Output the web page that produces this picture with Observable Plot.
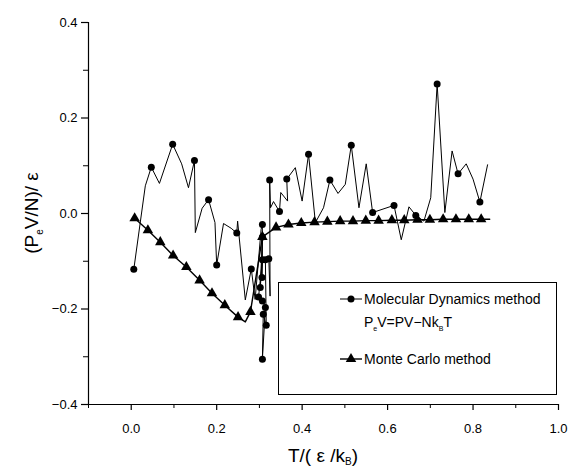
<!DOCTYPE html>
<html>
<head>
<meta charset="utf-8">
<script src="https://cdn.jsdelivr.net/npm/d3@7"></script>
<script src="https://cdn.jsdelivr.net/npm/@observablehq/plot@0.6"></script>
<style>
  html, body { margin: 0; padding: 0; background: #fff; }
  svg { display: block; }
</style>
</head>
<body>
<div id="chart"></div>
<script>
// Molecular Dynamics series (T, PeV/N), marker flag = 1 where a filled circle is drawn
const mdT = [0.006, 0.033, 0.047, 0.066, 0.097, 0.118, 0.134, 0.148, 0.150, 0.166, 0.181, 0.196, 0.200, 0.216, 0.234, 0.247, 0.249, 0.267, 0.281, 0.290, 0.304, 0.307, 0.306, 0.307, 0.302, 0.307, 0.298, 0.307, 0.314, 0.307, 0.309, 0.316, 0.314, 0.322, 0.325, 0.324, 0.326, 0.333, 0.347, 0.350, 0.366, 0.364, 0.384, 0.400, 0.415, 0.431, 0.450, 0.465, 0.484, 0.501, 0.515, 0.533, 0.550, 0.565, 0.615, 0.632, 0.650, 0.666, 0.685, 0.701, 0.716, 0.734, 0.751, 0.765, 0.784, 0.800, 0.816, 0.834];
const mdV = [-0.117, 0.058, 0.097, 0.063, 0.145, 0.104, 0.054, 0.111, -0.040, 0.011, 0.029, -0.019, -0.108, -0.021, -0.031, -0.041, -0.016, -0.181, -0.116, -0.180, -0.033, -0.023, -0.134, -0.049, -0.155, -0.097, -0.175, -0.183, -0.197, -0.305, -0.211, -0.234, -0.097, -0.095, -0.173, 0.070, 0.012, 0.025, 0.004, 0.044, 0.026, 0.072, 0.096, 0.026, 0.124, -0.019, 0.012, 0.070, 0.042, 0.061, 0.143, 0.012, 0.104, 0.002, 0.017, -0.055, 0.014, -0.004, -0.016, 0.033, 0.271, 0.002, 0.131, 0.083, 0.104, 0.072, 0.024, 0.102];
const mdMark = [1,0,1,0,1,0,0,1,0,0,1,0,1,0,0,1,0,0,1,0,0,1,1,1,1,1,1,1,1,1,1,1,1,1,0,1,0,0,1,0,0,1,0,0,1,0,0,1,0,0,1,0,0,1,1,0,0,1,0,0,1,0,0,1,0,0,1,0];

// Monte Carlo series
const mcT = [0.008, 0.039, 0.068, 0.098, 0.129, 0.160, 0.189, 0.219, 0.250, 0.267, 0.279, 0.307, 0.339, 0.368, 0.398, 0.429, 0.459, 0.489, 0.519, 0.549, 0.579, 0.610, 0.639, 0.670, 0.699, 0.730, 0.760, 0.790, 0.819, 0.839];
const mcV = [-0.010, -0.035, -0.060, -0.088, -0.112, -0.140, -0.167, -0.192, -0.217, -0.227, -0.206, -0.049, -0.029, -0.023, -0.020, -0.018, -0.017, -0.016, -0.016, -0.015, -0.015, -0.014, -0.014, -0.013, -0.013, -0.012, -0.012, -0.012, -0.012, -0.012];
const mcMark = [1,1,1,1,1,1,1,1,1,0,1,1,1,1,1,1,1,1,1,1,1,1,1,1,1,1,1,1,1,0];

// Axis ticks
const xTicks = [0.0, 0.2, 0.4, 0.6, 0.8, 1.0];
const xMinor = [-0.1, 0.1, 0.3, 0.5, 0.7, 0.9];
const yTicks = [-0.4, -0.2, 0.0, 0.2, 0.4];
const yMinor = [-0.3, -0.1, 0.1, 0.3];

// Legend / labels
const legendMD = "Molecular Dynamics method";
const legendMC = "Monte Carlo method";

const md = mdT.map((t, i) => ({T: t, V: mdV[i], m: mdMark[i]}));
const mc = mcT.map((t, i) => ({T: t, V: mcV[i], m: mcMark[i]}));

const fmt = d => d.toFixed(1).replace("-", "\u2212");
const tickFont = '"Liberation Sans", Arial, sans-serif';

const plot = Plot.plot({
  width: 569,
  height: 468,
  marginLeft: 88,
  marginRight: 11,
  marginTop: 22,
  marginBottom: 64,
  x: {domain: [-0.1, 1.0]},
  y: {domain: [-0.4, 0.4]},
  style: {fontFamily: tickFont, fontSize: "13px", background: "#fff", color: "#000"},
  marks: [
    Plot.ruleY([-0.4], {stroke: "#000", strokeWidth: 1.2}),
    Plot.ruleX([-0.1], {stroke: "#000", strokeWidth: 1.2}),
    Plot.axisX({ticks: xTicks, tickSize: 6, tickPadding: 13, tickFormat: fmt, label: null, stroke: "#000", strokeWidth: 1.2}),
    Plot.axisX({ticks: xMinor, tickSize: 4, tickFormat: () => "", label: null, stroke: "#000"}),
    Plot.axisY({ticks: yTicks, tickSize: 7, tickPadding: 4, tickFormat: fmt, label: null, stroke: "#000", strokeWidth: 1.2}),
    Plot.axisY({ticks: yMinor, tickSize: 5, tickFormat: () => "", label: null, stroke: "#000"}),
    Plot.line(md, {x: "T", y: "V", stroke: "#000", strokeWidth: 1}),
    Plot.dot(md.filter(d => d.m), {x: "T", y: "V", r: 3.5, fill: "#000", stroke: "none"}),
    Plot.line(mc, {x: "T", y: "V", stroke: "#000", strokeWidth: 1.4}),
    Plot.dot(mc.filter(d => d.m), {x: "T", y: "V", symbol: "triangle", r: 3.9, fill: "#000", stroke: "none"})
  ]
});

document.getElementById("chart").appendChild(plot);

const svg = d3.select(plot);
const labelFont = '"Liberation Sans", Arial, "DejaVu Sans", sans-serif';

// X axis title: T/(ε /kB)
const xt = svg.append("text")
  .attr("x", 323).attr("y", 462)
  .attr("text-anchor", "middle")
  .attr("font-family", labelFont).attr("font-size", 19).attr("fill", "#000");
xt.append("tspan").text("T/( \u03b5 /k");
xt.append("tspan").attr("font-size", 10).attr("dy", 3).text("B");
xt.append("tspan").attr("dy", -3).text(")");

// Y axis title: (PeV/N)/ ε
const yt = svg.append("text")
  .attr("transform", "translate(38,213) rotate(-90)")
  .attr("text-anchor", "middle")
  .attr("font-family", labelFont).attr("font-size", 19).attr("fill", "#000");
yt.append("tspan").text("(P");
yt.append("tspan").attr("font-size", 10).attr("dy", 5).text("e");
yt.append("tspan").attr("dy", -5).text("V/N)/ \u03b5");

// Legend
const lg = svg.append("g").attr("font-family", tickFont).attr("font-size", 14).attr("fill", "#000").attr("text-anchor", "start");
lg.append("rect").attr("x", 278.5).attr("y", 282.5).attr("width", 278).attr("height", 112)
  .attr("fill", "#fff").attr("stroke", "#000").attr("stroke-width", 1);
lg.append("line").attr("x1", 340).attr("x2", 362).attr("y1", 299).attr("y2", 299).attr("stroke", "#000").attr("stroke-width", 1);
lg.append("circle").attr("cx", 351).attr("cy", 299).attr("r", 3.5).attr("fill", "#000");
lg.append("text").attr("x", 364).attr("y", 304).text(legendMD);
const l2 = lg.append("text").attr("x", 364).attr("y", 327);
l2.append("tspan").text("P");
l2.append("tspan").attr("font-size", 7).attr("dy", 4).text("e");
l2.append("tspan").attr("dy", -4).text("V=PV\u2212Nk");
l2.append("tspan").attr("font-size", 7).attr("dy", 4).text("B");
l2.append("tspan").attr("dy", -4).text("T");
lg.append("line").attr("x1", 340).attr("x2", 362).attr("y1", 359).attr("y2", 359).attr("stroke", "#000").attr("stroke-width", 1.4);
lg.append("path").attr("d", d3.symbol(d3.symbolTriangle, Math.PI * 3.9 * 3.9)()).attr("transform", "translate(351,359)").attr("fill", "#000");
lg.append("text").attr("x", 364).attr("y", 364).text(legendMC);
</script>
</body>
</html>
